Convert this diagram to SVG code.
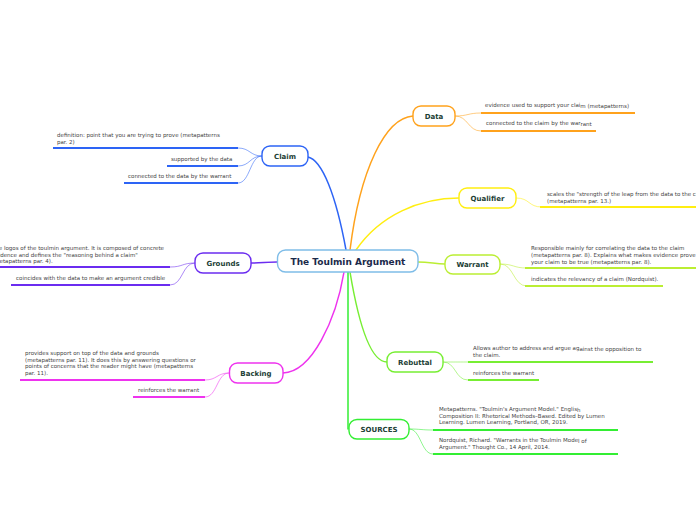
<svg xmlns="http://www.w3.org/2000/svg" width="696" height="520" viewBox="0 0 696 520">
<style>
.t{font-family:"DejaVu Sans",Verdana,sans-serif;font-size:5.5px;fill:#444}
.lbl{font-family:"DejaVu Sans",Verdana,sans-serif;font-size:7px;font-weight:bold;fill:#1c4035;text-anchor:middle}
.ctr{font-family:"DejaVu Sans",Verdana,sans-serif;font-size:9px;font-weight:bold;fill:#1b2a4a;text-anchor:middle}
.node{fill:#fff;stroke-width:1.4}
.c{fill:none;stroke-width:1.5;stroke-linecap:round}
.s{fill:none;stroke-width:1;stroke-opacity:0.55}
.u{fill:none;stroke-width:2}
</style>
<rect width="696" height="520" fill="#fff"/>
<g id="connectors">
<path class="c" stroke="#2d64f5" d="M308,157 C322,160 336,195 346,250"/>
<path class="c" stroke="#ffa21c" d="M413,116 C385,118 360,170 350,250"/>
<path class="c" stroke="#ffee11" d="M459,198 C420,198 380,215 356,250"/>
<path class="c" stroke="#6b2cf0" d="M277,262 C268,262 260,263 251,263"/>
<path class="c" stroke="#bbee33" d="M418,262 C430,262 435,264 445,264"/>
<path class="c" stroke="#ee33ee" d="M344,272 C336,320 312,372 283,373"/>
<path class="c" stroke="#77ee33" d="M350,272 C358,320 370,362 387,362"/>
<path class="c" stroke="#33ee33" d="M348,272 V429"/>
</g>
<g id="center">
<rect class="node" x="277.5" y="250" width="140.5" height="22" rx="8" stroke="#7fbde8"/>
<text class="ctr" x="348" y="264.5">The Toulmin Argument</text>
</g>
<g id="claim">
<path class="s" stroke="#2d64f5" d="M262,156 C250,156 250,148 238,148 M262,156 C250,156 250,166 238,166 M262,156 C250,156 250,183 238,183"/>
<path class="u" stroke="#2d64f5" d="M53,148 H238 M167,166 H238 M124,183 H238"/>
<rect class="node" x="262" y="146" width="46" height="20" rx="8" stroke="#2d64f5"/>
<text class="lbl" x="285" y="158.5">Claim</text>
<text class="t" x="57" y="137">definition: point that you are trying to prove (metapatterns</text>
<text class="t" x="57" y="143.5">par. 2)</text>
<text class="t" x="171" y="161">supported by the data</text>
<text class="t" x="128" y="178">connected to the data by the warrant</text>
</g>
<g id="data">
<path class="s" stroke="#ffa21c" d="M455,116 C468,116 468,113 481,113 M455,116 C468,116 468,131 481,131"/>
<path class="u" stroke="#ffa21c" d="M481,113 H635 M481,131 H596"/>
<rect class="node" x="413" y="106" width="42" height="20" rx="8" stroke="#ffa21c"/>
<text class="lbl" x="434" y="118.5">Data</text>
<text class="t" x="485" y="107">evidence used to support your clai<tspan dy="1">m (metapatterns)</tspan></text>
<text class="t" x="486" y="124.5">connected to the claim by the war<tspan dy="1.5">rant</tspan></text>
</g>
<g id="qualifier">
<path class="s" stroke="#ffee11" d="M516,198 C530,198 528,207 542,207"/>
<path class="u" stroke="#ffee11" d="M540,207 H696"/>
<rect class="node" x="459" y="188" width="57" height="20" rx="8" stroke="#ffee11"/>
<text class="lbl" x="487.5" y="200.5">Qualifier</text>
<text class="t" x="547" y="196">scales the "strength of the leap from the data to the claim"</text>
<text class="t" x="547" y="202.5">(metapatterns par. 13.)</text>
</g>
<g id="grounds">
<path class="s" stroke="#6b2cf0" d="M195,263 C182,263 183,267 170,267 M195,263 C182,263 183,285 170,285"/>
<path class="u" stroke="#6b2cf0" d="M0,267 H170 M11,285 H170"/>
<rect class="node" x="195" y="253" width="56" height="20" rx="8" stroke="#6b2cf0"/>
<text class="lbl" x="223" y="265.5">Grounds</text>
<text class="t" x="-8" y="250">The logos of the toulmin argument. It is composed of concrete</text>
<text class="t" x="-8" y="256.5">evidence and defines the "reasoning behind a claim"</text>
<text class="t" x="-8" y="263">(metapatterns par. 4).</text>
<text class="t" x="16" y="280">coincides with the data to make an argument credible</text>
</g>
<g id="warrant">
<path class="s" stroke="#bbee33" d="M500,264 C514,264 513,268 527,268 M500,264 C514,264 513,286 527,286"/>
<path class="u" stroke="#bbee33" d="M525,268 H696 M525,286 H663"/>
<rect class="node" x="445" y="255" width="55" height="19" rx="8" stroke="#bbee33"/>
<text class="lbl" x="472.5" y="267">Warrant</text>
<text class="t" x="531" y="250">Responsible mainly for correlating the data to the claim</text>
<text class="t" x="531" y="256.5">(metapatterns pa<tspan dy="0.8">r. 8). Explains what makes evidence prove</tspan></text>
<text class="t" x="531" y="263.5">your claim to be true (metapatterns par. 8).</text>
<text class="t" x="531" y="281">indicates the relevancy of a claim (Nordquist).</text>
</g>
<g id="backing">
<path class="s" stroke="#ee33ee" d="M229,373 C217,373 217,380 205,380 M229,373 C217,373 217,397 205,397"/>
<path class="u" stroke="#ee33ee" d="M20,380 H205 M133,397 H205"/>
<rect class="node" x="229.5" y="363" width="53.5" height="20" rx="8" stroke="#ee33ee"/>
<text class="lbl" x="256" y="375.5">Backing</text>
<text class="t" x="25" y="355">provides support on top of the data and grounds</text>
<text class="t" x="25" y="361.5">(metapatterns par. 11). It does this by answering questions or</text>
<text class="t" x="25" y="368">points of concerns that the reader might have (metapatterns</text>
<text class="t" x="25" y="374.5">par. 11).</text>
<text class="t" x="138" y="392">reinforces the warrant</text>
</g>
<g id="rebuttal">
<path class="s" stroke="#77ee33" d="M443,362 C456,362 455,362 468,362 M443,362 C456,362 455,380 468,380"/>
<path class="u" stroke="#77ee33" d="M468,362 H653 M468,380 H539"/>
<rect class="node" x="387" y="352" width="56" height="20" rx="8" stroke="#77ee33"/>
<text class="lbl" x="415" y="364.5">Rebuttal</text>
<text class="t" x="473" y="350">Allows author to address and argue ag<tspan dy="0.8">ainst the opposition to</tspan></text>
<text class="t" x="473" y="356.5">the claim.</text>
<text class="t" x="473" y="374.5">reinforces the warrant</text>
</g>
<g id="sources">
<path class="s" stroke="#33ee33" d="M409,429 C421,429 421,430 433,430 M409,429 C421,429 421,454 433,454"/>
<path class="u" stroke="#33ee33" d="M433,430 H618 M433,454 H618"/>
<rect class="node" x="349" y="419.5" width="60" height="19.5" rx="8" stroke="#33ee33"/>
<text class="lbl" x="379" y="431.5">SOURCES</text>
<text class="t" x="439" y="411">Metapatterns. "Toulmin's Argument Model." Englis<tspan dy="1.2">h</tspan></text>
<text class="t" x="439" y="417.5">Composition II: Rhetorical Methods–Based. Edited by Lumen</text>
<text class="t" x="439" y="424">Learning. Lumen Learning, Portland, OR, 2019.</text>
<text class="t" x="439" y="442">Nordquist, Richard. "Warrants in the Toulmin Mode<tspan dy="0.8">l of</tspan></text>
<text class="t" x="439" y="449">Argument." Thought Co., 14 April, 2014.</text>
</g>
</svg>
